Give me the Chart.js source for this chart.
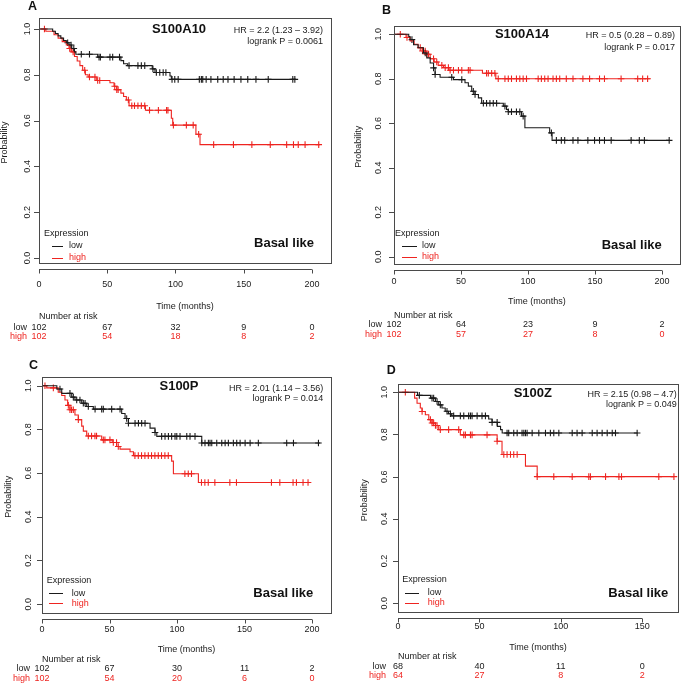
<!DOCTYPE html>
<html>
<head>
<meta charset="utf-8">
<script src="https://cdn.jsdelivr.net/npm/chart.js@4.4.1/dist/chart.umd.min.js"></script>
<style>
  body { margin: 0; background: #fff; }
  #wrap { position: relative; width: 685px; height: 686px; overflow: hidden; background: #fff; }
  #wrap canvas { position: absolute; }
</style>
</head>
<body>
<div id="wrap">
  <canvas id="kmA" width="345" height="345" style="left:0;top:0"></canvas>
  <canvas id="kmB" width="340" height="345" style="left:345px;top:0"></canvas>
  <canvas id="kmC" width="345" height="341" style="left:0;top:345px"></canvas>
  <canvas id="kmD" width="340" height="341" style="left:345px;top:345px"></canvas>
</div>
<script>
const FONT = "'Liberation Sans', Arial, Helvetica, sans-serif";
const LOW_COLOR = "#1a1a1a";
const HIGH_COLOR = "#ee2420";

// ===== DATA (time in months, survival probability) =====
// step points [time, survival after drop]
const aLow = [[0,1],[10,0.99],[12,0.98],[14,0.97],[16,0.96],[18,0.95],[20,0.94],[22,0.93],[24,0.915],[26,0.9],[27,0.89],[43,0.877],[60,0.862],[62,0.848],[65,0.84],[83,0.826],[85,0.81],[96,0.795],[97,0.78],[188,0.78]];
const aHigh = [[0,1],[5,0.99],[11,0.975],[14,0.96],[17,0.945],[20,0.93],[22,0.915],[24,0.9],[26,0.88],[28,0.86],[30,0.84],[32,0.82],[34,0.8],[36,0.79],[42,0.775],[52,0.765],[55,0.75],[57,0.735],[60,0.72],[62,0.705],[64,0.69],[66,0.665],[78,0.645],[97,0.61],[98,0.58],[115,0.54],[118,0.495],[206,0.495]];
const aLowCens = [21,23.5,25.5,31,37,44,45,52,54,59,66,72.5,75,77.5,83.5,86,88.5,91,93,97.5,99.5,102,117.5,119,120,122.5,126,131,135,138.5,143,148,153,159,168,186,187.5];
const aHighCens = [4,22.5,23.5,25,33.5,37,41,43,44.5,55.5,57,58,65.5,68,70,72.5,75,77.5,81,87.5,93.5,94.5,98.5,108,113,117,128,142.5,156,169.5,181.5,186.5,190,195,205];
const aRiskLow = [102, 67, 32, 9, 0];
const aRiskHigh = [102, 54, 18, 8, 2];

const bLow = [[0,1],[11,0.99],[12,0.976],[14.6,0.953],[18,0.939],[22,0.916],[24.5,0.894],[27,0.871],[29.5,0.849],[30.7,0.819],[34.4,0.807],[44.4,0.796],[53,0.782],[55.5,0.767],[58,0.744],[60.5,0.729],[63,0.714],[65.4,0.69],[81.6,0.677],[84,0.662],[85.3,0.652],[95.2,0.632],[97.7,0.58],[116.2,0.557],[118,0.523],[205.4,0.523]];
const bHigh = [[0,1],[9,0.985],[12,0.97],[15,0.955],[18,0.94],[21,0.925],[24,0.91],[27,0.89],[30,0.875],[33,0.86],[37,0.85],[41,0.838],[66,0.825],[76,0.8],[191,0.8]];
const bLowCens = [13.4,23.3,29.5,30.7,43.1,50.6,59.2,60.5,66.7,69.1,71.6,74.1,76.6,82.8,85.3,87.7,91.4,93.9,96.4,117.5,121.2,124.9,127.4,133.6,137.3,144.7,149.7,153.4,157.1,162.1,177,183.1,186.9,205.4];
const bHighCens = [4.7,9.7,19.6,21.3,23.3,24.5,25.8,29.5,31.9,35.7,38.2,40.6,41.9,44.4,48.1,50.6,55.5,56.8,69.1,70.4,72.9,75.3,77.8,82.8,85.3,87.7,91.4,93.9,96.4,98.9,107.6,110,112.5,115,118.7,121.2,123.7,128.6,133.6,141,146,153.4,157.1,169.5,181.9,185.6,189.3];
const bRiskLow = [102, 64, 23, 9, 2];
const bRiskHigh = [102, 57, 27, 8, 0];

const cLow = [[0,1],[11,0.985],[14.6,0.965],[22,0.948],[24.4,0.935],[29.4,0.92],[33.1,0.905],[38,0.893],[59,0.873],[61.5,0.85],[64,0.828],[80,0.806],[83.7,0.786],[85,0.768],[118.3,0.738],[206,0.738]];
const cHigh = [[0,1],[3.5,0.99],[12,0.97],[14.6,0.955],[17,0.935],[19,0.91],[20.7,0.89],[24.4,0.866],[26.9,0.845],[29.4,0.815],[30.6,0.792],[33.1,0.77],[44.2,0.752],[52,0.74],[55.3,0.722],[57.8,0.71],[65.2,0.698],[67.7,0.68],[96,0.655],[97.3,0.597],[115.8,0.557],[197,0.557]];
const cLowCens = [13.3,20.7,23.2,25.7,28.1,30.6,31.9,34.3,39.3,44.2,45.4,51.6,57.8,62.7,64,68.9,71.4,73.8,76.3,83.7,88.6,91.1,93.6,96,98.5,99.8,102.2,107.2,109.6,113.3,118.3,120.7,123.2,124.4,125.7,129.4,133.1,135.6,138,141.7,144.2,146.7,150.4,154.1,160.2,181.2,186.2,204.7];
const cHighCens = [2.2,8.4,19.5,20.7,21.9,23.2,26.9,34.3,36.7,39.2,40.4,45.4,46.6,50.3,52.8,55.2,56.5,68.8,71.3,73.7,76.2,78.7,81.1,83.6,86.1,88.5,91,93.5,105.8,108.3,110.7,118.1,120.6,123.1,128,139.1,144,169.9,176.1,185.9,188.4,193.3,197];
const cRiskLow = [102, 67, 30, 11, 2];
const cRiskHigh = [102, 54, 20, 6, 0];

const dLow = [[0,1],[12,0.985],[20,0.972],[23,0.956],[25,0.94],[27,0.925],[29,0.91],[31,0.898],[33,0.888],[55.7,0.873],[57.8,0.857],[61,0.838],[63,0.823],[64,0.807],[147,0.807]];
const dHigh = [[0,1],[10.2,0.972],[11.7,0.948],[13.7,0.925],[14.8,0.909],[16.8,0.893],[18.9,0.87],[20.9,0.854],[23,0.842],[25,0.823],[38.3,0.798],[60.9,0.768],[63.9,0.705],[78.3,0.65],[85.5,0.6],[169.5,0.6]];
const dLowCens = [13.1,20.9,21.9,24,26,30.1,32.2,34.2,38.3,40.4,43.4,44.5,45.5,48.6,51.6,53.7,57.8,60.9,67,68,71.1,73.2,76.2,77.3,78.3,79.3,82.4,86.5,90.6,93.6,95.7,98.8,107,110,113.1,119.3,122.3,125.4,128.5,131.6,133.6,146.9];
const dHighCens = [4.5,14.8,19.9,20.9,21.9,23,24,26,31.1,37.3,40.4,41.4,44.5,45.5,54.7,60.9,65,67,69.1,71.1,73.2,85.5,95.7,107,117.2,118.2,127.5,135.7,137.3,160.2,169.5];
const dRiskLow = [68, 40, 11, 0];
const dRiskHigh = [64, 27, 8, 2];

const riskTimes = [0, 50, 100, 150, 200];

// ===== PANEL LAYOUT =====
const panels = [
  {
    id: "kmA", letter: "A", gene: "S100A10", hr: "HR = 2.2 (1.23 \u2013 3.92)", p: "logrank P = 0.0061",
    low: aLow, high: aHigh, lowCens: aLowCens, highCens: aHighCens, riskLow: aRiskLow, riskHigh: aRiskHigh,
    xMax: 214, yMin: -0.022, yMax: 1.048,
    area: [39, 18, 331, 263], letterPos: [32.5, 6.5], titlePos: [179, 29], hrPos: [323, 30.5, 41.5],
    legend: { ex: [44, 233.5], line: [52, 63], tx: 69, yLow: 246, yHigh: 258 }, basal: [314, 243.5],
    yLabX: 28, probX: 5, rows: { tick: 21.7, time: 43.4, nar: 54, low: 64.4, high: 74 },
  },
  {
    id: "kmB", letter: "B", gene: "S100A14", hr: "HR = 0.5 (0.28 \u2013 0.89)", p: "logrank P = 0.017",
    low: bLow, high: bHigh, lowCens: bLowCens, highCens: bHighCens, riskLow: bRiskLow, riskHigh: bRiskHigh,
    xMax: 213.4, yMin: -0.03, yMax: 1.037,
    area: [49, 26, 336, 263.5], letterPos: [41.5, 10.5], titlePos: [177, 34.3], hrPos: [330, 35.7, 47.7],
    legend: { ex: [50, 233.5], line: [57, 72], tx: 77, yLow: 245.7, yHigh: 256.7 }, basal: [316.7, 245.7],
    yLabX: 33.3, probX: 14, rows: { tick: 18.4, time: 38.4, nar: 51.7, low: 61, high: 71 },
  },
  {
    id: "kmC", letter: "C", gene: "S100P", hr: "HR = 2.01 (1.14 \u2013 3.56)", p: "logrank P = 0.014",
    low: cLow, high: cHigh, lowCens: cLowCens, highCens: cHighCens, riskLow: cRiskLow, riskHigh: cRiskHigh,
    xMax: 214, yMin: -0.039, yMax: 1.04,
    area: [42, 32, 331, 267.7], letterPos: [33.5, 20.3], titlePos: [179, 41.7], hrPos: [323.3, 43.3, 54],
    legend: { ex: [46.7, 236], line: [49, 63], tx: 71.7, yLow: 248.3, yHigh: 258.3 }, basal: [313.3, 248.3],
    yLabX: 28.3, probX: 8.3, rows: { tick: 16.6, time: 37.3, nar: 46.6, low: 56.3, high: 65.6 },
  },
  {
    id: "kmD", letter: "D", gene: "S100Z", hr: "HR = 2.15 (0.98 \u2013 4.7)", p: "logrank P = 0.049",
    low: dLow, high: dHigh, lowCens: dLowCens, highCens: dHighCens, riskLow: dRiskLow, riskHigh: dRiskHigh,
    xMax: 172, yMin: -0.043, yMax: 1.039,
    area: [53, 39, 333, 267.3], letterPos: [46.2, 25.5], titlePos: [187.8, 48.3], hrPos: [331.7, 50, 59.3],
    legend: { ex: [57.3, 235], line: [60, 74], tx: 82.7, yLow: 247.7, yHigh: 257.7 }, basal: [323.3, 248.3],
    yLabX: 40, probX: 20, rows: { tick: 14.4, time: 35, nar: 44.4, low: 54.4, high: 63.7 },
  },
];
const panelById = {};
panels.forEach((p) => (panelById[p.id] = p));

function survAt(steps, t) {
  let s = steps[0][1];
  for (const [tt, v] of steps) {
    if (tt <= t) s = v;
    else break;
  }
  return s;
}

// ===== DECORATIONS (box, axes, legend, risk table) =====
const kmDecor = {
  id: "kmDecor",
  afterDraw(chart) {
    const p = panelById[chart.canvas.id];
    const { ctx, chartArea: a } = chart;
    const xs = chart.scales.x;
    const ys = chart.scales.y;
    ctx.save();

    // box
    ctx.strokeStyle = "#4a4a4a";
    ctx.lineWidth = 1;
    ctx.strokeRect(Math.round(a.left) + 0.5, Math.round(a.top) + 0.5, Math.round(a.right - a.left), Math.round(a.bottom - a.top));

    // x axis line, offset below the box
    const xt = xs.ticks.map((t) => t.value);
    const ay = Math.round(a.bottom) + 6.5;
    ctx.beginPath();
    ctx.moveTo(xs.getPixelForValue(xt[0]), ay);
    ctx.lineTo(xs.getPixelForValue(xt[xt.length - 1]), ay);
    xt.forEach((v) => {
      const px = Math.round(xs.getPixelForValue(v)) + 0.5;
      ctx.moveTo(px, ay);
      ctx.lineTo(px, ay + 4);
    });
    // y tick marks
    ys.ticks.forEach((t) => {
      const py = Math.round(ys.getPixelForValue(t.value)) + 0.5;
      ctx.moveTo(a.left - 5, py);
      ctx.lineTo(a.left, py);
    });
    ctx.stroke();

    // y tick labels (rotated like R)
    ctx.fillStyle = "#1a1a1a";
    ctx.font = "9px " + FONT;
    ctx.textAlign = "center";
    ctx.textBaseline = "middle";
    ys.ticks.forEach((t) => {
      ctx.save();
      ctx.translate(p.yLabX, ys.getPixelForValue(t.value));
      ctx.rotate(-Math.PI / 2);
      ctx.fillText(t.value.toFixed(1), 0, 0);
      ctx.restore();
    });
    ctx.save();
    ctx.translate(p.probX, (a.top + a.bottom) / 2 + 2);
    ctx.rotate(-Math.PI / 2);
    ctx.fillText("Probability", 0, 0);
    ctx.restore();

    // x title
    ctx.fillText("Time (months)", (a.left + a.right) / 2, a.bottom + p.rows.time);

    // panel letter
    ctx.fillStyle = "#111";
    ctx.font = "bold 12.5px " + FONT;
    ctx.fillText(p.letter, p.letterPos[0], p.letterPos[1]);

    // gene title
    ctx.font = "bold 13px " + FONT;
    ctx.fillText(p.gene, p.titlePos[0], p.titlePos[1]);

    // HR / logrank
    ctx.font = "9px " + FONT;
    ctx.fillStyle = "#1a1a1a";
    ctx.textAlign = "right";
    ctx.fillText(p.hr, p.hrPos[0], p.hrPos[1]);
    ctx.fillText(p.p, p.hrPos[0], p.hrPos[2]);

    // Basal like
    ctx.font = "bold 13px " + FONT;
    ctx.fillStyle = "#111";
    ctx.fillText("Basal like", p.basal[0], p.basal[1]);

    // legend
    const lg = p.legend;
    ctx.font = "9px " + FONT;
    ctx.textAlign = "left";
    ctx.fillStyle = "#1a1a1a";
    ctx.fillText("Expression", lg.ex[0], lg.ex[1]);
    ctx.fillText("low", lg.tx, lg.yLow);
    ctx.fillStyle = HIGH_COLOR;
    ctx.fillText("high", lg.tx, lg.yHigh);
    ctx.lineWidth = 1;
    ctx.strokeStyle = LOW_COLOR;
    ctx.beginPath();
    ctx.moveTo(lg.line[0], Math.round(lg.yLow) + 0.5);
    ctx.lineTo(lg.line[1], Math.round(lg.yLow) + 0.5);
    ctx.stroke();
    ctx.strokeStyle = HIGH_COLOR;
    ctx.beginPath();
    ctx.moveTo(lg.line[0], Math.round(lg.yHigh) + 0.5);
    ctx.lineTo(lg.line[1], Math.round(lg.yHigh) + 0.5);
    ctx.stroke();

    // number at risk
    ctx.fillStyle = "#1a1a1a";
    ctx.fillText("Number at risk", a.left, a.bottom + p.rows.nar);
    ctx.textAlign = "right";
    ctx.fillText("low", a.left - 12, a.bottom + p.rows.low);
    ctx.fillStyle = HIGH_COLOR;
    ctx.fillText("high", a.left - 12, a.bottom + p.rows.high);
    ctx.textAlign = "center";
    p.riskLow.forEach((n, i) => {
      ctx.fillStyle = "#1a1a1a";
      ctx.fillText(String(n), xs.getPixelForValue(riskTimes[i]), a.bottom + p.rows.low);
      ctx.fillStyle = HIGH_COLOR;
      ctx.fillText(String(p.riskHigh[i]), xs.getPixelForValue(riskTimes[i]), a.bottom + p.rows.high);
    });

    ctx.restore();
  },
};

// ===== KM CHARTS =====
function kmChart(p) {
  const canvas = document.getElementById(p.id);
  const W = canvas.width;
  const H = canvas.height;
  const [L, T, R, B] = p.area;

  const stepLine = (steps, color) => ({
    data: steps.map(([t, s]) => ({ x: t, y: s })),
    stepped: true,
    borderColor: color,
    borderWidth: 1.1,
    pointRadius: 0,
    fill: false,
  });
  const censorMarks = (times, steps, color) => ({
    data: times.map((t) => ({ x: t, y: survAt(steps, t) })),
    showLine: false,
    pointStyle: "cross",
    pointRadius: 3.3,
    pointBorderWidth: 1.1,
    pointBorderColor: color,
    pointBackgroundColor: color,
  });

  new Chart(canvas, {
    type: "line",
    data: {
      datasets: [
        stepLine(p.low, LOW_COLOR),
        stepLine(p.high, HIGH_COLOR),
        censorMarks(p.lowCens, p.low, LOW_COLOR),
        censorMarks(p.highCens, p.high, HIGH_COLOR),
      ],
    },
    options: {
      responsive: false,
      devicePixelRatio: 1,
      animation: false,
      events: [],
      layout: { padding: { left: L, top: T, right: W - R, bottom: 0 } },
      plugins: {
        legend: { display: false },
        tooltip: { enabled: false },
      },
      scales: {
        x: {
          type: "linear",
          min: 0,
          max: p.xMax,
          grid: { display: false, drawTicks: false },
          border: { display: false },
          ticks: {
            stepSize: 50,
            includeBounds: false,
            maxRotation: 0,
            autoSkip: false,
            padding: p.rows.tick - 5.4,
            color: "#1a1a1a",
            font: { family: FONT, size: 9 },
          },
          afterFit(scale) {
            scale.height = H - B;
          },
        },
        y: {
          type: "linear",
          min: p.yMin,
          max: p.yMax,
          grid: { display: false, drawTicks: false },
          border: { display: false },
          ticks: { display: false, stepSize: 0.2, includeBounds: false },
          afterFit(scale) {
            scale.width = 0;
          },
        },
      },
    },
    plugins: [kmDecor],
  });
}

panels.forEach(kmChart);
</script>
</body>
</html>
